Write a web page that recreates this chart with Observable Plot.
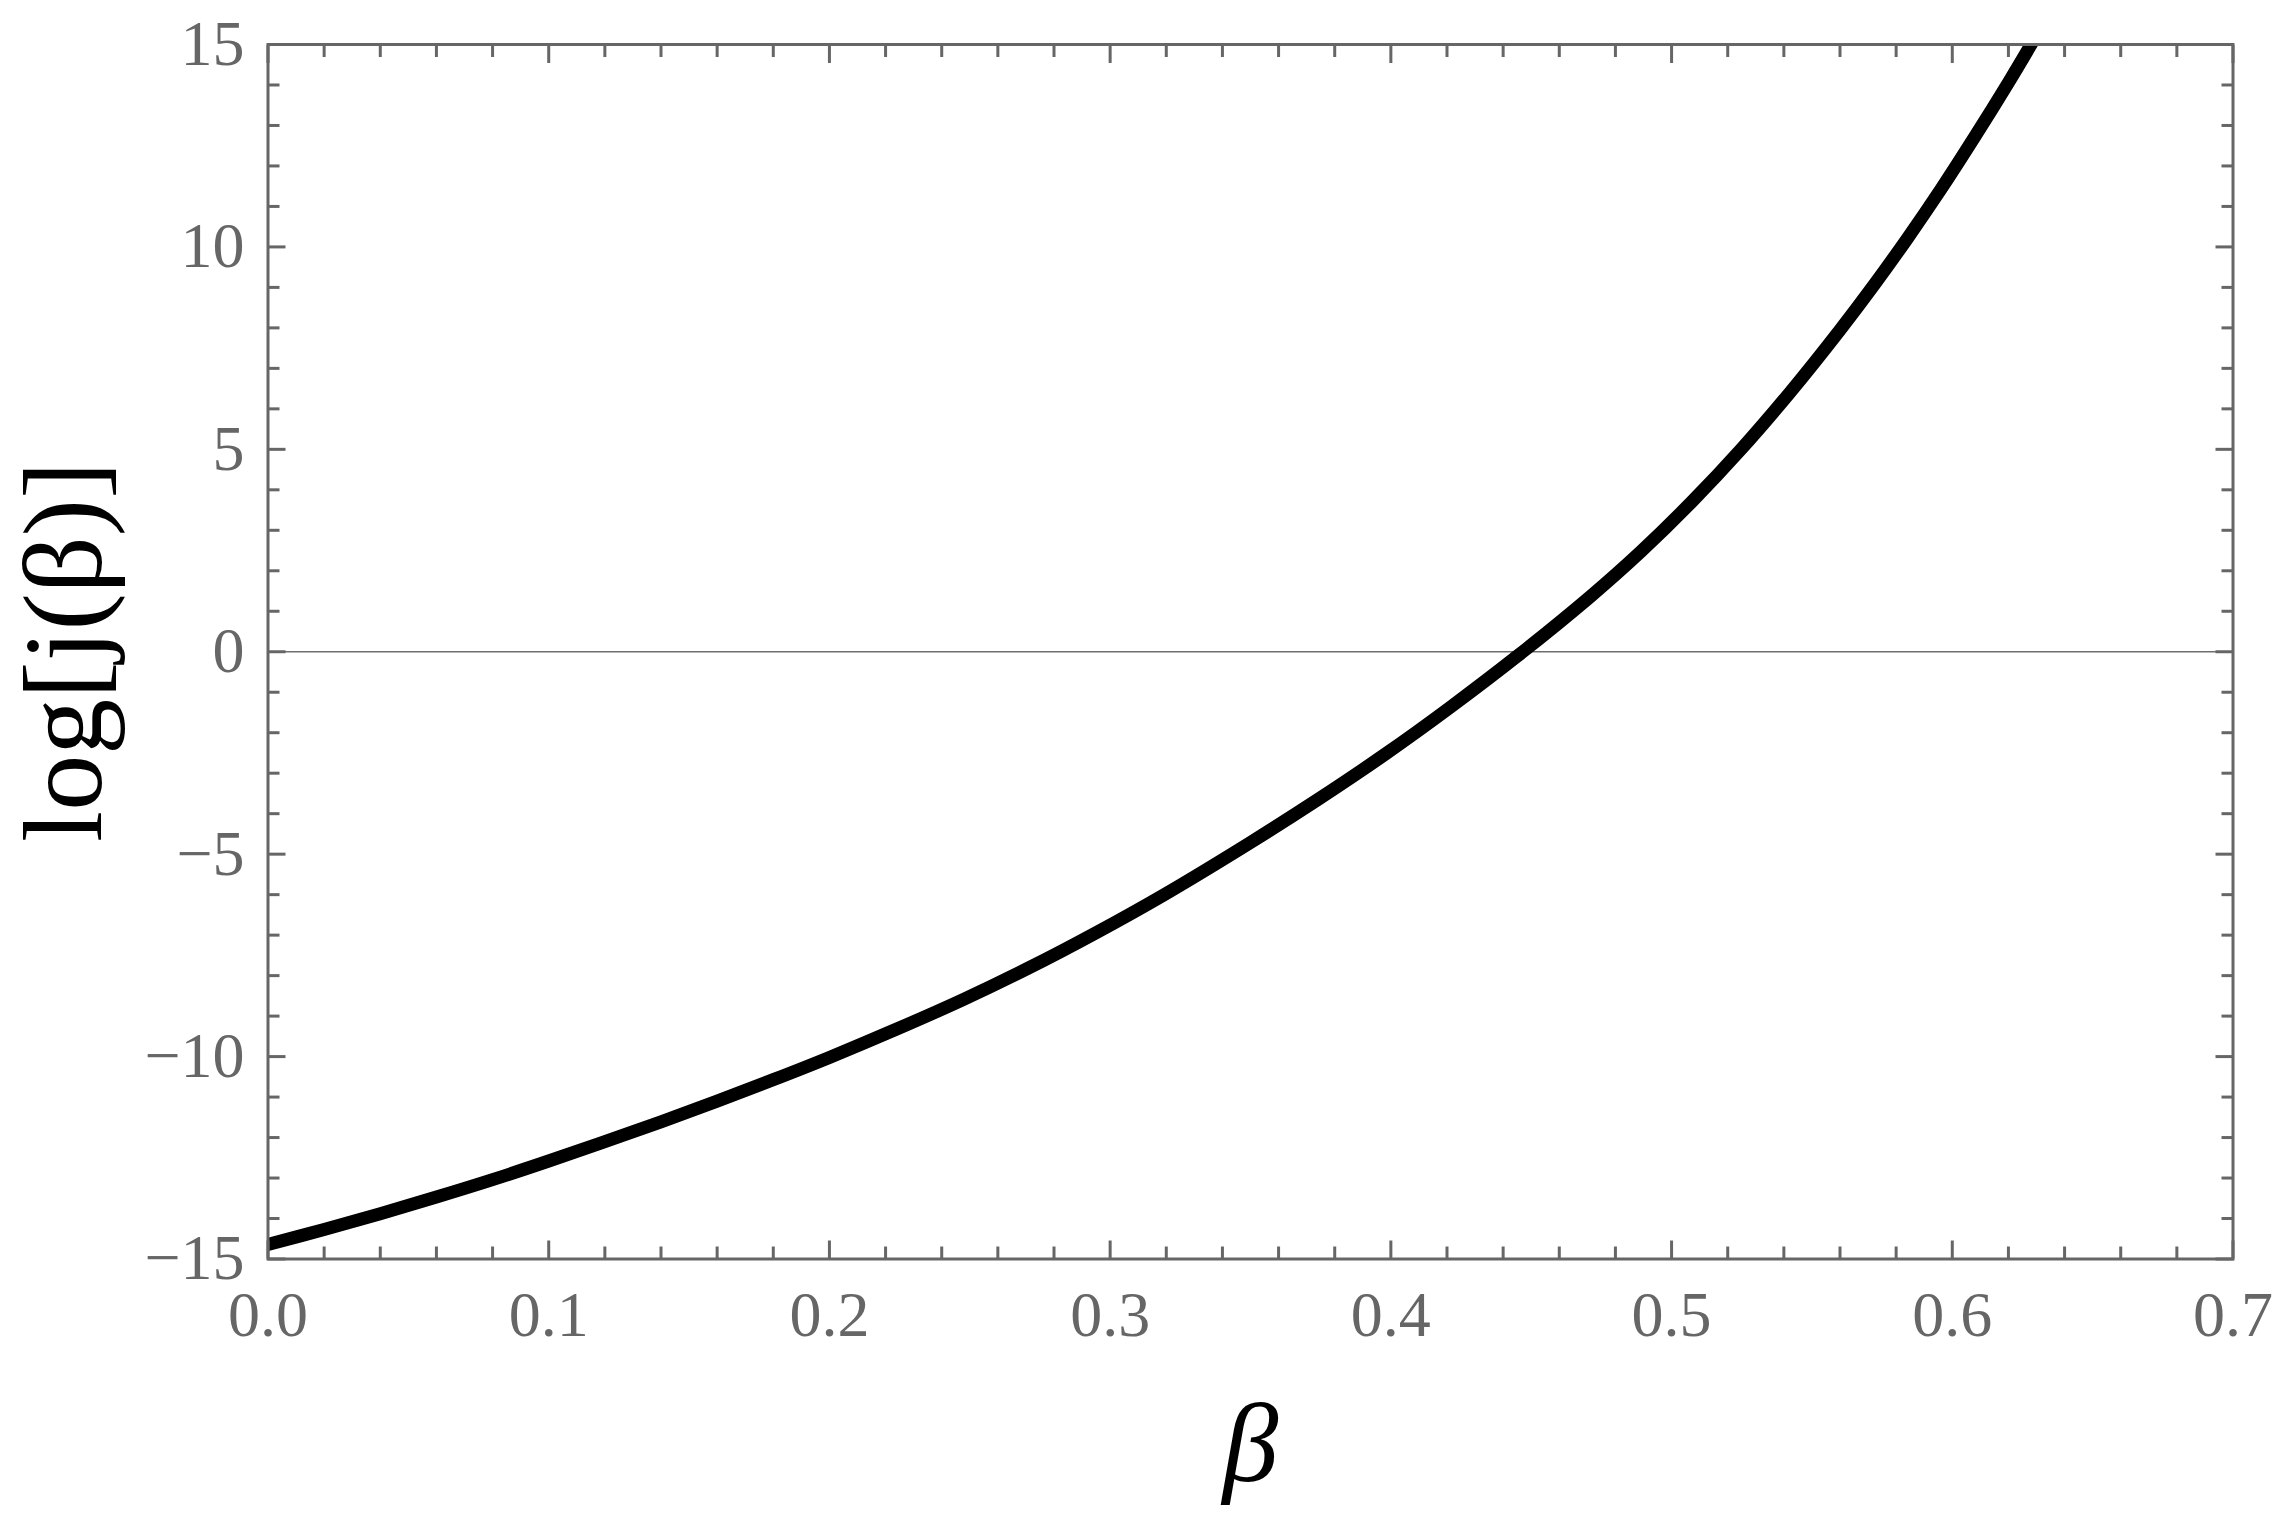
<!DOCTYPE html>
<html><head><meta charset="utf-8">
<script src="https://cdn.jsdelivr.net/npm/d3@7"></script>
<script src="https://cdn.jsdelivr.net/npm/@observablehq/plot@0.6"></script>
<style>html,body{margin:0;padding:0;background:#fff}</style>
</head><body><div id="chart"></div>
<script>
// values
const beta = [0, 0.02, 0.04, 0.06, 0.08, 0.10, 0.12, 0.14, 0.16, 0.18, 0.20,
  0.224, 0.248, 0.271, 0.295, 0.319, 0.35, 0.374, 0.398, 0.421, 0.445,
  0.471, 0.489, 0.507, 0.525, 0.542, 0.560, 0.572, 0.584, 0.596, 0.608, 0.620, 0.6285];
const logJ = [-14.64, -14.27, -13.88, -13.47, -13.04, -12.58, -12.10, -11.61, -11.10, -10.57, -10.02,
  -9.32, -8.58, -7.81, -6.94, -6.01, -4.71, -3.65, -2.53, -1.38, -0.11,
  1.36, 2.47, 3.69, 5.02, 6.39, 7.95, 9.05, 10.21, 11.43, 12.72, 14.06, 15.05];

const xMajorTicks = [0, 0.1, 0.2, 0.3, 0.4, 0.5, 0.6, 0.7];
const xMinorTicks = [0.02, 0.04, 0.06, 0.08, 0.12, 0.14, 0.16, 0.18, 0.22, 0.24, 0.26, 0.28,
  0.32, 0.34, 0.36, 0.38, 0.42, 0.44, 0.46, 0.48, 0.52, 0.54, 0.56, 0.58, 0.62, 0.64, 0.66, 0.68];
const yMajorTicks = [-15, -10, -5, 0, 5, 10, 15];
const yMinorTicks = [-14, -13, -12, -11, -9, -8, -7, -6, -4, -3, -2, -1,
  1, 2, 3, 4, 6, 7, 8, 9, 11, 12, 13, 14];
const xLabel = "β";
const yLabel = "log[j(β)]";

const data = beta.map((b, i) => ({beta: b, v: logJ[i]}));
const gray = "#666666";
const serif = "'Liberation Serif', 'Times New Roman', Times, serif";
const fmtX = d => d3.format(".1f")(d);
const fmtY = d => String(d).replace("-", "\u2212");

const MAJ = 18, MIN = 12;
function tickAxes(scale, ticks, len) {
  const common = {ticks, tickSize: len, fill: "none", stroke: gray, strokeWidth: 3, label: null};
  if (scale === "x") return [
    Plot.axisX({...common, anchor: "bottom", dy: -len}),
    Plot.axisX({...common, anchor: "top", dy: len})
  ];
  return [
    Plot.axisY({...common, anchor: "left", dx: len}),
    Plot.axisY({...common, anchor: "right", dx: -len})
  ];
}

const plot = Plot.plot({
  width: 2288, height: 1528,
  marginLeft: 267.5, marginRight: 55.5, marginTop: 44, marginBottom: 269.5,
  x: {domain: [0, 0.7]},
  y: {domain: [-15, 15]},
  style: {fontFamily: serif, background: "#fff", color: gray},
  marks: [
    Plot.ruleY([0], {stroke: "#6e6e6e", strokeWidth: 1.3}),
    Plot.line(data, {x: "beta", y: "v", stroke: "#000", strokeWidth: 13, curve: "catmull-rom", clip: "frame"}),
    ...tickAxes("x", xMajorTicks, MAJ),
    ...tickAxes("x", xMinorTicks, MIN),
    ...tickAxes("y", yMajorTicks, MAJ),
    ...tickAxes("y", yMinorTicks, MIN),
    Plot.frame({stroke: gray, strokeWidth: 3}),
    Plot.axisX({ticks: xMajorTicks, anchor: "bottom", tickSize: 0, tickPadding: 32, tickFormat: fmtX,
      fontSize: 64, fill: gray, label: null}),
    Plot.axisY({ticks: yMajorTicks, anchor: "left", tickSize: 0, tickPadding: 23.5, tickFormat: fmtY,
      fontSize: 64, fill: gray, label: null}),
    Plot.text([xLabel], {frameAnchor: "bottom", dy: 221.5, fontSize: 112, fontStyle: "italic",
      fontFamily: serif, lineAnchor: "bottom", fill: "#000", ariaLabel: "x-label"}),
    Plot.text([yLabel], {frameAnchor: "left", dx: -167.5, rotate: -90, fontSize: 112,
      fontFamily: serif, textAnchor: "middle", lineAnchor: "bottom", fill: "#000", ariaLabel: "y-label"})
  ]
});
document.getElementById("chart").appendChild(plot);

// mixed styling inside the y label: bold "log", italic j and β
const yl = plot.querySelector('g[aria-label="y-label"] text');
if (yl) {
  yl.innerHTML = '<tspan style="font-weight:bold">log</tspan>[<tspan style="font-style:italic">j</tspan>(<tspan style="font-style:italic">β</tspan>)]';
}
</script>
</body></html>
